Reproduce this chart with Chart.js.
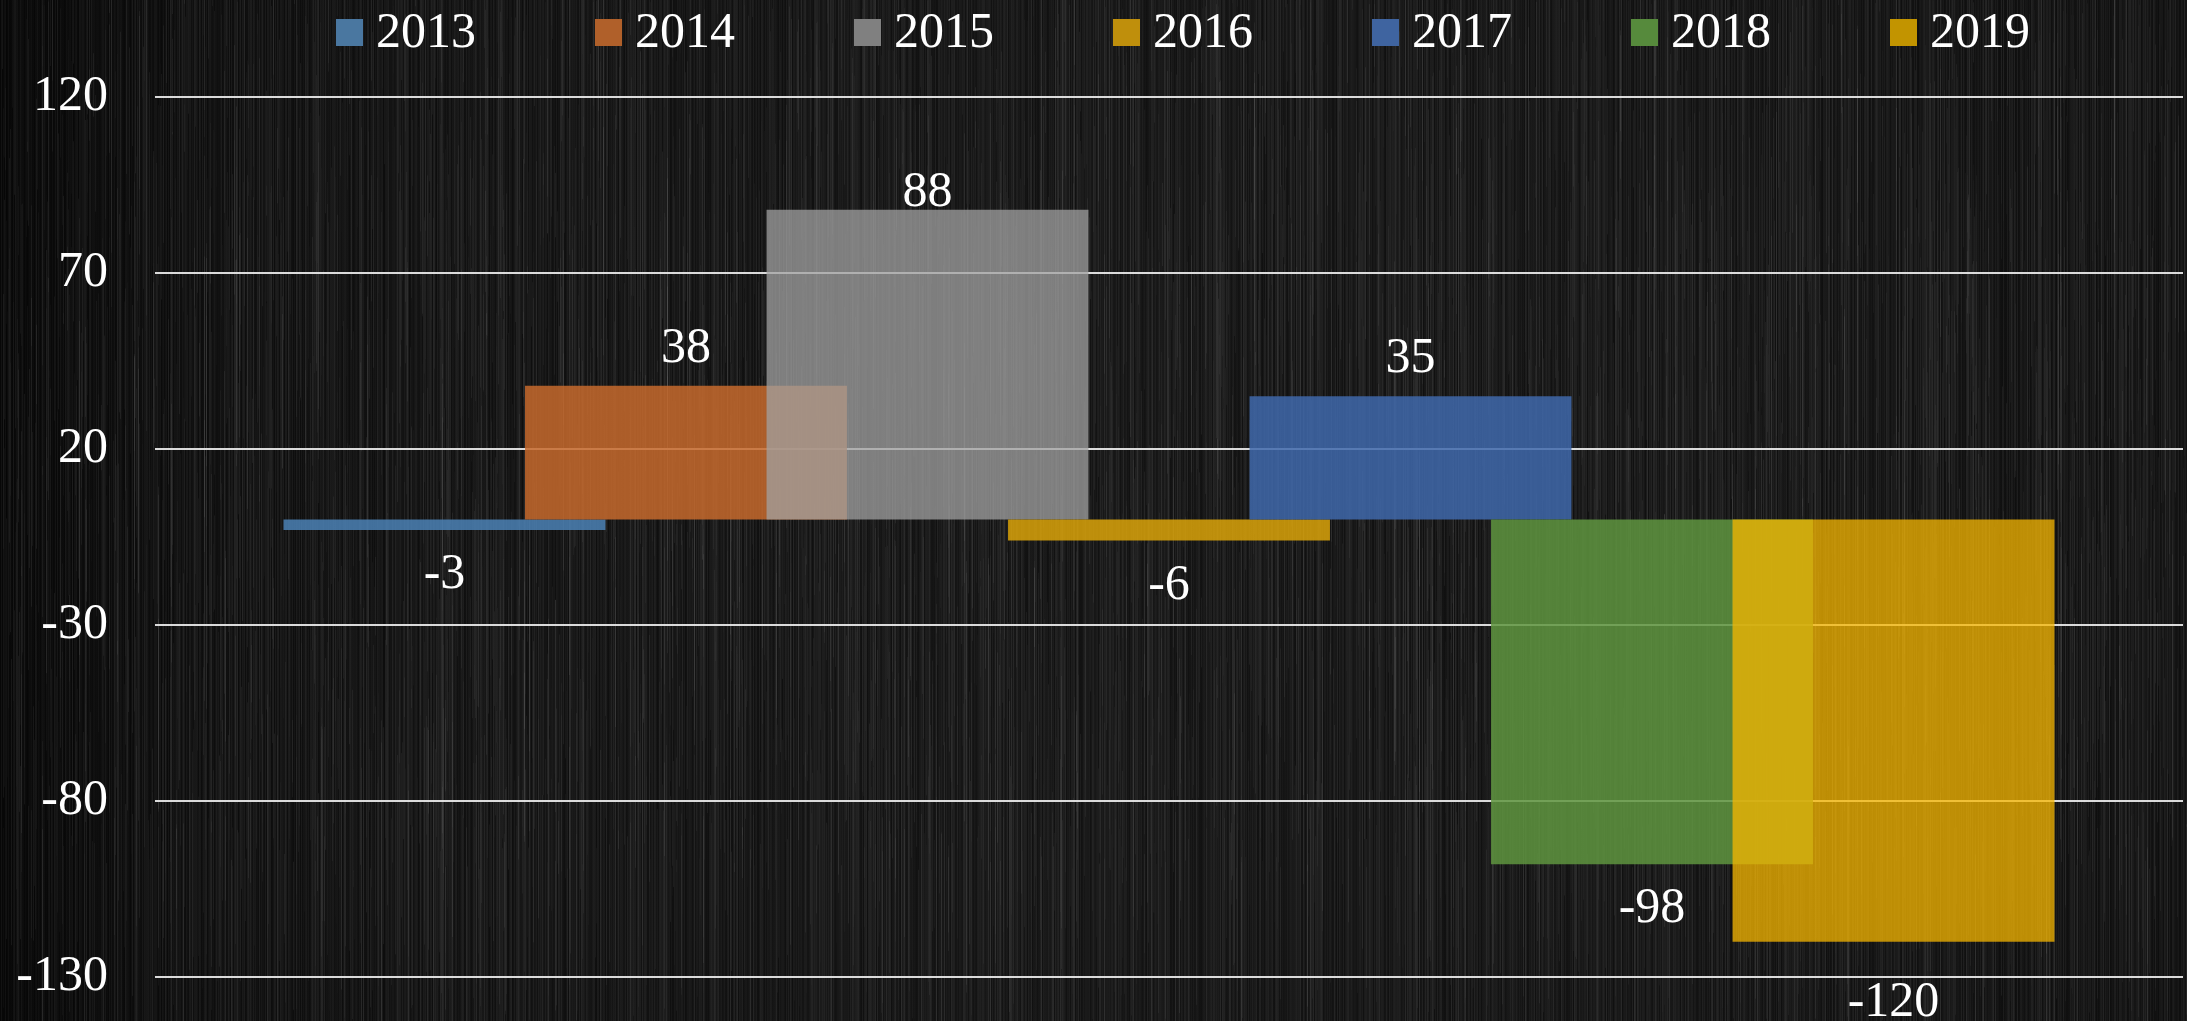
<!DOCTYPE html>
<html>
<head>
<meta charset="utf-8">
<script src="https://cdn.jsdelivr.net/npm/chart.js@4.4.0/dist/chart.umd.min.js"></script>
<style>
    html, body { margin: 0; padding: 0; background: #141414; overflow: hidden; }
    #contenedor { width: 2187px; height: 1021px; position: relative; }
</style>
</head>
<body>
<div id="contenedor"><canvas id="grafico"></canvas></div>
<script>
// ====================================
// Datos del grafico
// ====================================
const anios = ['2013', '2014', '2015', '2016', '2017', '2018', '2019'];
const valores = [-3, 38, 88, -6, 35, -98, -120];
const ticksY = [-130, -80, -30, 20, 70, 120];

// colores de barras (con transparencia) y de la leyenda
const coloresBarra = [
    'rgba(75, 129, 181, 0.85)',
    'rgba(199, 106, 45, 0.85)',
    'rgba(162, 162, 162, 0.75)',
    'rgba(219, 163, 9, 0.85)',
    'rgba(64, 104, 171, 0.85)',
    'rgba(95, 149, 63, 0.85)',
    'rgba(247, 183, 0, 0.75)'
];
const coloresLeyenda = ['#4a77a0', '#b0602a', '#808080', '#bf8f0c', '#3f64a0', '#568a3c', '#c29400'];

const fuente = "'Liberation Serif', 'Times New Roman', serif";
const tamFuente = 50;

// ajuste de etiquetas movidas a mano en el original
const corrimientoEtiqueta = [0, 0, 20, 0, 0, 0, 16];

//textura de metal cepillado para el fondo
function crearTextura(w, h) {
    const c = document.createElement('canvas');
    c.width = w;
    c.height = h;
    const g = c.getContext('2d');
    const grad = g.createLinearGradient(0, 0, w, 0);
    grad.addColorStop(0, '#0a0a0a');
    grad.addColorStop(0.12, '#141414');
    grad.addColorStop(0.5, '#1a1a1a');
    grad.addColorStop(1, '#161616');
    g.fillStyle = grad;
    g.fillRect(0, 0, w, h);

    let s = 20131;
    const sig = () => { s = (s * 16807) % 2147483647; return s / 2147483647; };

    for (let x = 0; x < w; x++) {
        const v = sig();
        g.fillStyle = v > 0.5
            ? 'rgba(255,255,255,' + ((v - 0.5) * 0.07).toFixed(3) + ')'
            : 'rgba(0,0,0,' + ((0.5 - v) * 0.7).toFixed(3) + ')';
        g.fillRect(x, 0, 1, h);
    }
    for (let i = 0; i < 5000; i++) {
        const x = Math.floor(sig() * w);
        const y = sig() * h - 150;
        const largo = 60 + sig() * 450;
        g.fillStyle = 'rgba(255,255,255,' + (0.012 + sig() * 0.05).toFixed(3) + ')';
        g.fillRect(x, y, 1, largo);
    }
    return c;
}

const textura = crearTextura(2187, 1021);

const fondoPlugin = {
    id: 'fondo',
    beforeDraw(chart) {
        chart.ctx.drawImage(textura, 0, 0, chart.width, chart.height);
    }
};

//dibuja las barras en orden (la serie siguiente queda encima)
const ordenPlugin = {
    id: 'ordenBarras',
    beforeDatasetsDraw(chart) {
        chart.getSortedVisibleDatasetMetas().forEach(meta => meta.controller.draw());
        return false;
    }
};

//etiquetas de valor arriba/abajo de cada barra
const etiquetasPlugin = {
    id: 'etiquetas',
    afterDraw(chart) {
        const ctx = chart.ctx;
        const separacion = 24;
        const altoDigito = 34;
        ctx.save();
        ctx.font = tamFuente + 'px ' + fuente;
        ctx.fillStyle = '#ffffff';
        ctx.textAlign = 'center';
        ctx.textBaseline = 'alphabetic';
        chart.data.datasets.forEach((ds, i) => {
            const barra = chart.getDatasetMeta(i).data[0];
            const v = ds.data[0];
            let y = v >= 0 ? barra.y - separacion : barra.y + separacion + altoDigito;
            y += corrimientoEtiqueta[i];
            ctx.fillText(String(v), barra.x, y);
        });
        ctx.restore();
    }
};

//leyenda dibujada a mano (cuadro + texto)
const leyendaPlugin = {
    id: 'leyendaPropia',
    afterDraw(chart) {
        const ctx = chart.ctx;
        const cuadro = 27;
        const espacioTexto = 13;
        const espacioItem = 119;
        ctx.save();
        ctx.font = tamFuente + 'px ' + fuente;
        ctx.textBaseline = 'alphabetic';
        ctx.textAlign = 'left';
        const anchos = chart.data.datasets.map(ds => cuadro + espacioTexto + ctx.measureText(ds.label).width);
        const total = anchos.reduce((a, b) => a + b, 0) + espacioItem * (anchos.length - 1);
        const area = chart.chartArea;
        let x = (area.left + area.right) / 2 + 14 - total / 2;
        chart.data.datasets.forEach((ds, i) => {
            ctx.fillStyle = coloresLeyenda[i];
            ctx.fillRect(x, 19, cuadro, cuadro);
            ctx.fillStyle = '#ffffff';
            ctx.fillText(ds.label, x + cuadro + espacioTexto, 47);
            x += anchos[i] + espacioItem;
        });
        ctx.restore();
    }
};

const datasets = anios.map((a, i) => ({
    label: a,
    data: [valores[i]],
    backgroundColor: coloresBarra[i],
    borderWidth: 0,
    categoryPercentage: 0.8336,
    barPercentage: 1.333
}));

new Chart(document.getElementById('grafico'), {
    type: 'bar',
    data: {
        labels: [''],
        datasets: datasets
    },
    options: {
        responsive: true,
        maintainAspectRatio: false,
        animation: false,
        layout: {
            padding: { top: 97, bottom: 44, left: 0, right: 4 }
        },
        plugins: {
            legend: { display: false },
            tooltip: { enabled: false }
        },
        scales: {
            x: {
                display: false,
                offset: true,
                grid: { display: false }
            },
            y: {
                min: ticksY[0],
                max: ticksY[ticksY.length - 1],
                afterBuildTicks: function (scale) {
                    scale.ticks = ticksY.map(v => ({ value: v }));
                },
                afterFit: function (scale) {
                    scale.width = 155;
                    scale.paddingTop = 0;
                    scale.paddingBottom = 0;
                },
                border: { display: false },
                grid: {
                    color: 'rgba(235, 235, 235, 0.92)',
                    lineWidth: 2,
                    drawTicks: false
                },
                ticks: {
                    color: '#ffffff',
                    padding: 47,
                    font: { family: fuente, size: tamFuente }
                }
            }
        }
    },
    plugins: [fondoPlugin, ordenPlugin, etiquetasPlugin, leyendaPlugin]
});
</script>
</body>
</html>
